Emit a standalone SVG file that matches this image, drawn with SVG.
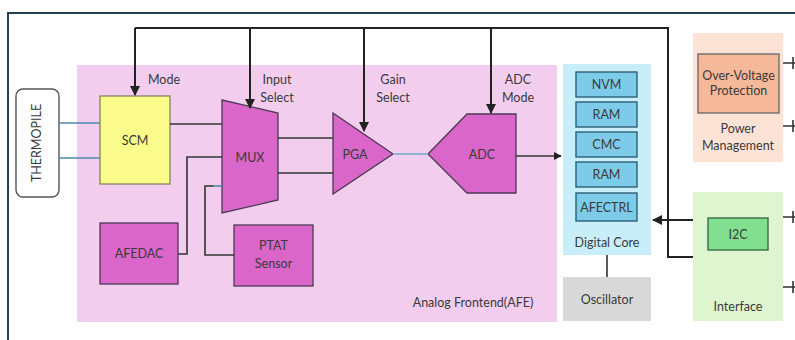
<svg xmlns="http://www.w3.org/2000/svg" width="795" height="340" viewBox="0 0 795 340">
<style>
text{font-family:Lato,"Open Sans","Liberation Sans",sans-serif;font-size:12.5px;fill:#3a3a3a;text-anchor:middle}
.ln{stroke:#333;stroke-width:1.6;fill:none}
.bus{stroke:#222;stroke-width:2;fill:none}
.blue{stroke:#4f88ab;stroke-width:1.6;fill:none}
.mag{fill:#d966c8;stroke:#4a3a55;stroke-width:1.3}
.mem{fill:#7ccbe8;stroke:#2d5f75;stroke-width:1.4}
</style>
<defs>
<marker id="ah" viewBox="0 0 10 10" refX="9" refY="5" markerWidth="5" markerHeight="5" orient="auto-start-reverse">
<path d="M0,0 L10,5 L0,10 z" fill="#222"/>
</marker>
</defs>
<rect width="795" height="340" fill="#fff"/>
<g id="frame">
<path d="M8,340 V13 H795" stroke="#25404f" stroke-width="2" fill="none"/>
</g>
<g id="afe">
<rect x="77" y="65" width="480" height="257" fill="#f2cdee"/>
<text x="473" y="307">Analog Frontend(AFE)</text>
</g>
<g id="digital-core">
<rect x="563" y="64" width="88" height="191" fill="#c8eefa"/>
<text x="607" y="247">Digital Core</text>
</g>
<g id="nvm"><rect class="mem" x="576" y="72" width="61" height="25"/><text x="606.5" y="89">NVM</text></g>
<g id="ram1"><rect class="mem" x="576" y="102" width="61" height="25"/><text x="606.5" y="119">RAM</text></g>
<g id="cmc"><rect class="mem" x="576" y="132" width="61" height="25"/><text x="606.5" y="149">CMC</text></g>
<g id="ram2"><rect class="mem" x="576" y="162" width="61" height="25"/><text x="606.5" y="179">RAM</text></g>
<g id="afectrl"><rect class="mem" x="576" y="193" width="61" height="28"/><text x="606.5" y="211.5" font-size="12">AFECTRL</text></g>
<g id="oscillator">
<rect x="563" y="277" width="88" height="44" fill="#d9d9d9"/>
<text x="607" y="303.5">Oscillator</text>
</g>
<g id="power">
<rect x="693" y="33" width="90" height="129" fill="#fde3d6"/>
<rect x="698" y="54" width="81" height="59" fill="#f5b899" stroke="#6e6e6e" stroke-width="1.4"/>
<text x="738.5" y="80" font-size="11">Over-Voltage</text>
<text x="738.5" y="95" font-size="11">Protection</text>
<text x="738" y="133">Power</text>
<text x="738" y="150">Management</text>
</g>
<g id="interface">
<rect x="693" y="192" width="90" height="129" fill="#dff5d0"/>
<rect x="708" y="218" width="60" height="32" fill="#80e090" stroke="#3a6e45" stroke-width="1.4"/>
<text x="738" y="238.5">I2C</text>
<text x="738" y="311">Interface</text>
</g>
<g id="thermopile">
<rect x="16" y="89" width="43" height="108" rx="7" fill="#fff" stroke="#555" stroke-width="1.4"/>
<text transform="translate(41,143) rotate(-90)" font-size="10.5">THERMOPILE</text>
</g>
<g id="scm">
<rect x="100" y="96" width="70" height="88" fill="#fbfb8c" stroke="#7a7a5a" stroke-width="1.2"/>
<text x="135" y="145">SCM</text>
</g>
<g id="mux">
<path class="mag" d="M222,100 L278,113 L278,200 L222,213 z"/>
<text x="250" y="162">MUX</text>
</g>
<g id="pga">
<path class="mag" d="M333,113 L393,154 L333,194 z"/>
<text x="355" y="159">PGA</text>
</g>
<g id="adc">
<path class="mag" d="M428,154 L467,114 L516,114 L516,193 L467,193 z"/>
<text x="482" y="159">ADC</text>
</g>
<g id="afedac">
<rect class="mag" x="100" y="223" width="78" height="61"/>
<text x="139" y="258">AFEDAC</text>
</g>
<g id="ptat">
<rect class="mag" x="234" y="225" width="79" height="61"/>
<text x="273.5" y="250">PTAT</text>
<text x="273.5" y="268">Sensor</text>
</g>
<g id="labels">
<text x="164" y="84">Mode</text>
<text x="277" y="84">Input</text>
<text x="277" y="102">Select</text>
<text x="393" y="84">Gain</text>
<text x="393" y="102">Select</text>
<text x="518" y="84">ADC</text>
<text x="518" y="102">Mode</text>
</g>
<g id="connectors">
<path class="blue" d="M59,123 H100 M59,158 H100"/>
<path class="ln" d="M170,124 H222"/>
<path class="ln" d="M278,138 H333 M278,173 H333"/>
<path d="M393,154 H428" stroke="#8fb3d3" stroke-width="2" fill="none"/>
<path class="ln" d="M516,156 H561" marker-end="url(#ah)"/>
<path class="ln" d="M178,254 H187 V157 H222"/>
<path class="ln" d="M234,255 H205 V186 H214"/>
<path class="blue" d="M213,186 H222"/>
<path class="ln" d="M607,255 V277"/>
<path class="bus" d="M135,28 H668 V257 H693"/>
<path class="bus" d="M135,28 V95" marker-end="url(#ah)"/>
<path class="bus" d="M250,28 V108" marker-end="url(#ah)"/>
<path class="bus" d="M364,28 V131" marker-end="url(#ah)"/>
<path class="bus" d="M491,28 V113" marker-end="url(#ah)"/>
<path class="bus" d="M693,220 H653" marker-end="url(#ah)"/>
<path class="ln" d="M783,63 H795 M793,57 V69 M783,126 H795 M793,120 V132 M783,217 H795 M793,211 V223 M783,287 H795 M793,281 V293"/>
</g>
</svg>
